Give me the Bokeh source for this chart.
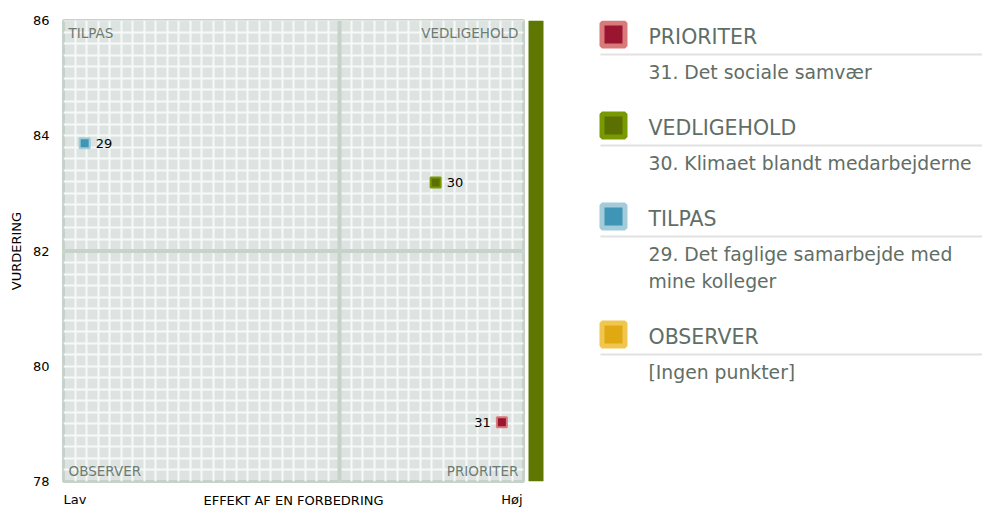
import textwrap
import numpy as np
from bokeh.plotting import figure
from bokeh.models import Range1d, FixedTicker, Span, ColumnDataSource
from bokeh.layouts import row
from bokeh.embed import file_html
from bokeh.resources import INLINE
from bokeh.core.properties import value

# ---------------- data ----------------
categories = ["PRIORITER", "VEDLIGEHOLD", "TILPAS", "OBSERVER"]
cat_fill = ["#9a1530", "#5b7000", "#3f95b5", "#e0a812"]
cat_line = ["#d97a7a", "#789a00", "#a3cbd9", "#f1c64e"]
empty_text = "[Ingen punkter]"

point_ids = ["29", "30", "31"]
point_names = ["Det faglige samarbejde med mine kolleger",
               "Klimaet blandt medarbejderne",
               "Det sociale samvær"]
effekt = [4.6, 80.9, 95.3]
vurdering = [83.87, 83.19, 79.03]

x_lo, x_hi = 0, 100
y_lo, y_hi = 78, 86
x_split = 60
y_split = 82
y_ticks = [78, 80, 82, 84, 86]
x_tick_pos = [2.5, 97.5]
x_tick_labels = ["Lav", "Høj"]
x_title = "EFFEKT AF EN FORBEDRING"
y_title = "VURDERING"
bar_low = [78]
bar_high = [86]
bar_color = "#5e7700"

FONT = "DejaVu Sans"
GRAY_TXT = "#6d7b73"
LEG_TXT = "#5f6e66"

TOP = 20
FRAME_H = 461


def category_of(x, y):
    if x >= x_split and y < y_split:
        return 0
    if x >= x_split and y >= y_split:
        return 1
    if x < x_split and y >= y_split:
        return 2
    return 3


cats = [category_of(x, y) for x, y in zip(effekt, vurdering)]

# ---------------- main chart ----------------
p = figure(frame_width=460, frame_height=FRAME_H, x_range=Range1d(x_lo, x_hi),
           y_range=Range1d(y_lo, y_hi), output_backend="svg", toolbar_location=None,
           min_border_left=63, min_border_right=3, min_border_top=TOP, min_border_bottom=10)
p.background_fill_color = "#dde3e0"
p.border_fill_color = "white"
p.outline_line_color = "#c6d1c9"
p.outline_line_width = 3

p.xgrid.ticker = FixedTicker(ticks=list(np.arange(x_lo, x_hi + 0.01, 2.5)))
p.ygrid.ticker = FixedTicker(ticks=list(np.arange(y_lo, y_hi + 0.001, 0.2)))
for g in (p.xgrid, p.ygrid):
    g.grid_line_color = "#f7f9f8"
    g.grid_line_width = 2
    g.grid_line_alpha = 1

p.yaxis.ticker = FixedTicker(ticks=y_ticks)
p.xaxis.ticker = FixedTicker(ticks=x_tick_pos)
p.xaxis.major_label_overrides = {k: v for k, v in zip(x_tick_pos, x_tick_labels)}
for ax in (p.xaxis, p.yaxis):
    ax.axis_line_color = None
    ax.major_tick_line_color = None
    ax.minor_tick_line_color = None
    ax.major_label_text_font = FONT
    ax.major_label_text_font_size = "13px"
    ax.major_label_text_color = "black"
    ax.axis_label_text_font = FONT
    ax.axis_label_text_font_size = "13px"
    ax.axis_label_text_font_style = "normal"
    ax.axis_label_text_color = "black"
p.yaxis.major_label_standoff = 8
p.yaxis.axis_label = y_title
p.yaxis.axis_label_standoff = 6
p.xaxis.major_label_standoff = 4
p.xaxis.axis_label = x_title
p.xaxis.axis_label_standoff = -17

p.add_layout(Span(location=x_split, dimension="height", line_color="#c6d2ca", line_width=4))
p.add_layout(Span(location=y_split, dimension="width", line_color="#c6d2ca", line_width=4))

# quadrant labels
qx = [x_hi, x_hi, x_lo, x_lo]
qy = [y_lo, y_hi, y_hi, y_lo]
qsrc = ColumnDataSource(dict(
    x=qx, y=qy, t=categories,
    align=["right" if v == x_hi else "left" for v in qx],
    base=["top" if v == y_hi else "bottom" for v in qy],
    xo=[-5 if v == x_hi else 5 for v in qx],
    yo=[4 if v == y_hi else -3 for v in qy],
))
p.text(x="x", y="y", text="t", source=qsrc, text_align="align", text_baseline="base",
       x_offset="xo", y_offset="yo", text_font=value(FONT), text_font_size="13.5px",
       text_color=GRAY_TXT)

# points
psrc = ColumnDataSource(dict(
    x=effekt, y=vurdering, t=point_ids,
    fill=[cat_fill[c] for c in cats], line=[cat_line[c] for c in cats],
    align=["right" if x > 90 else "left" for x in effekt],
    xo=[-11 if x > 90 else 11 for x in effekt],
))
p.scatter(x="x", y="y", source=psrc, marker="square", size=10, fill_color="fill",
          line_color="line", line_width=2)
p.text(x="x", y="y", text="t", source=psrc, text_align="align", text_baseline="middle",
       x_offset="xo", text_font=value(FONT), text_font_size="13px", text_color="black")

# ---------------- side panel: bar + legend ----------------
q = figure(frame_width=456, frame_height=FRAME_H, x_range=Range1d(526, 982), y_range=p.y_range,
           output_backend="svg", toolbar_location=None, x_axis_type=None, y_axis_type=None,
           min_border_left=0, min_border_right=0, min_border_top=TOP, min_border_bottom=10)
q.extra_y_ranges = {"px": Range1d(start=TOP + FRAME_H, end=TOP)}
q.outline_line_color = None
q.background_fill_color = "white"
q.border_fill_color = "white"
q.grid.visible = False

q.quad(left=[528], right=[543], bottom=bar_low, top=bar_high, fill_color=bar_color,
       line_color=None)

head_y, sq_y, line_y, item_y, item_t = [], [], [], [], []
y = 36
for ci, cat in enumerate(categories):
    head_y.append(y)
    sq_y.append(y - 2)
    line_y.append(y + 18)
    items = [f"{pid}. {nm}" for pid, nm, c in zip(point_ids, point_names, cats) if c == ci]
    lines = []
    for it in items:
        lines += textwrap.wrap(it, 32)
    if not lines:
        lines = [empty_text]
    ly = y + 36
    for k, ln in enumerate(lines):
        item_y.append(ly + 27 * k)
        item_t.append(ln)
    y = item_y[-1] + 55

q.scatter(x=[613] * 4, y=sq_y, y_range_name="px", marker="square", size=23,
          fill_color=cat_fill, line_color=cat_line, line_width=5)
q.text(x=[648] * 4, y=head_y, text=categories, y_range_name="px", text_baseline="middle",
       text_font=value(FONT), text_font_size="20.5px", text_color=LEG_TXT)
q.segment(x0=[600] * 4, x1=[982] * 4, y0=line_y, y1=line_y, y_range_name="px",
          line_color="#e2e2e2", line_width=2)
q.text(x=[648] * len(item_y), y=item_y, text=item_t, y_range_name="px",
       text_baseline="middle", text_font=value(FONT), text_font_size="18.8px",
       text_color=LEG_TXT)

layout = row(p, q)
open("out.html", "w").write(file_html(layout, INLINE))
